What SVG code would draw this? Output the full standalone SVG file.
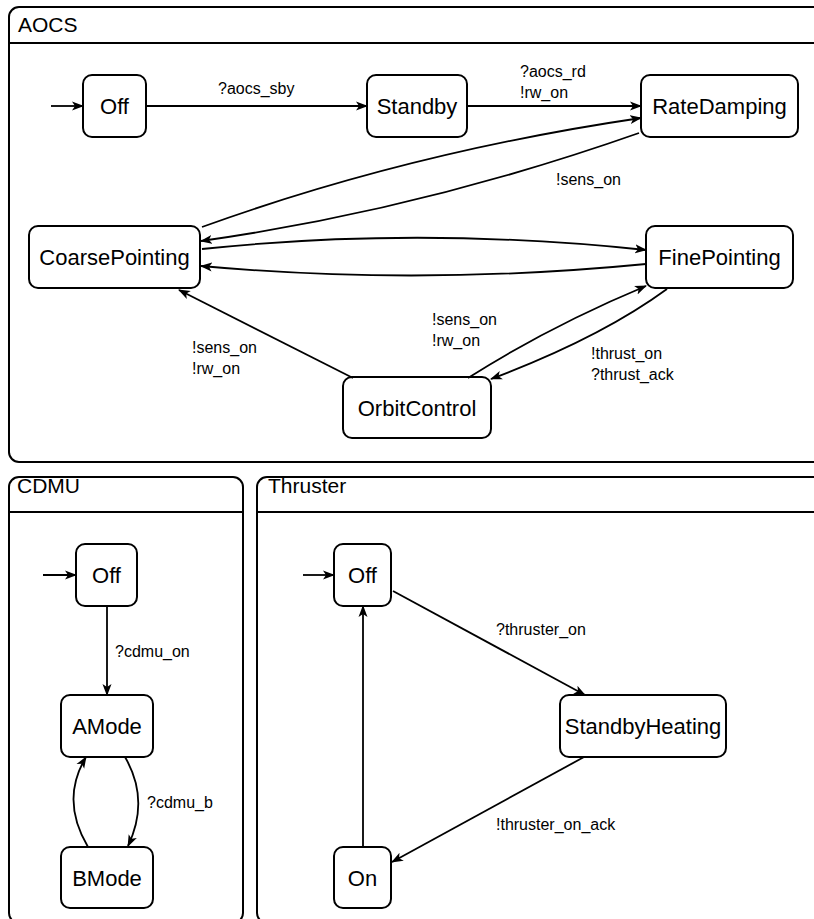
<svg xmlns="http://www.w3.org/2000/svg" width="814" height="919" viewBox="0 0 814 919">
<defs>
<marker id="arr" viewBox="0 0 12 10" refX="11" refY="5" markerWidth="12" markerHeight="10" markerUnits="userSpaceOnUse" orient="auto">
<path d="M0,0.5 L12,5 L0,9.5 L3,5 z" fill="#000"/>
</marker>
<style>
.cont{fill:none;stroke:#000;stroke-width:2}
.node rect{fill:#fff;stroke:#000;stroke-width:2}
.node text{font-family:"Liberation Sans",Arial,sans-serif;font-size:22px;text-anchor:middle;fill:#000}
.title{font-family:"Liberation Sans",Arial,sans-serif;font-size:21px;fill:#000}
.lbl{font-family:"Liberation Sans",Arial,sans-serif;font-size:16px;fill:#000}
.edge{fill:none;stroke:#000;stroke-width:1.8;marker-end:url(#arr)}
</style>
</defs>
<rect width="814" height="919" fill="#fff"/>

<g id="aocs">
<rect class="cont" x="9" y="7" width="830" height="455" rx="10"/>
<line class="cont" x1="9" y1="43" x2="820" y2="43"/>
<text class="title" x="18" y="32">AOCS</text>
</g>
<g id="cdmu">
<rect class="cont" x="9" y="477" width="234" height="446" rx="10"/>
<line class="cont" x1="9" y1="512" x2="243" y2="512"/>
<text class="title" x="17" y="493">CDMU</text>
</g>
<g id="thruster">
<rect class="cont" x="257" y="477" width="580" height="446" rx="10"/>
<line class="cont" x1="257" y1="512" x2="820" y2="512"/>
<text class="title" x="268" y="493">Thruster</text>
</g>

<g id="aocs_off" class="node"><rect x="83" y="75" width="63" height="62" rx="9"/><text x="114.5" y="114">Off</text></g>
<g id="aocs_standby" class="node"><rect x="367" y="75" width="100" height="62" rx="9"/><text x="417" y="114">Standby</text></g>
<g id="aocs_ratedamping" class="node"><rect x="641" y="75" width="157" height="62" rx="9"/><text x="719.5" y="114">RateDamping</text></g>
<g id="aocs_coarse" class="node"><rect x="29" y="226" width="171" height="62" rx="9"/><text x="114.5" y="265">CoarsePointing</text></g>
<g id="aocs_fine" class="node"><rect x="646" y="226" width="147" height="62" rx="9"/><text x="719.5" y="265">FinePointing</text></g>
<g id="aocs_orbit" class="node"><rect x="343" y="377" width="148" height="61" rx="9"/><text x="417" y="416">OrbitControl</text></g>

<g id="cdmu_off" class="node"><rect x="76" y="544" width="61" height="62" rx="9"/><text x="106.5" y="583">Off</text></g>
<g id="cdmu_amode" class="node"><rect x="61" y="695" width="92" height="62" rx="9"/><text x="107" y="734">AMode</text></g>
<g id="cdmu_bmode" class="node"><rect x="61" y="847" width="92" height="61" rx="9"/><text x="107" y="886">BMode</text></g>

<g id="thr_off" class="node"><rect x="334" y="544" width="57" height="62" rx="9"/><text x="362.5" y="583">Off</text></g>
<g id="thr_heating" class="node"><rect x="560" y="695" width="166" height="62" rx="9"/><text x="643" y="734">StandbyHeating</text></g>
<g id="thr_on" class="node"><rect x="334" y="847" width="57" height="61" rx="9"/><text x="362.5" y="886">On</text></g>

<g id="connectors">
<path class="edge" d="M51,106 L83,106"/>
<path class="edge" d="M146,106 L367,106"/>
<path class="edge" d="M467,106 L641,106"/>
<path class="edge" d="M202,227 Q410,152 641,118"/>
<path class="edge" d="M639,133 Q420,210 201,241"/>
<path class="edge" d="M202,249 Q420,226 646,250"/>
<path class="edge" d="M646,264 Q420,286 201,266"/>
<path class="edge" d="M353,378 L179,290"/>
<path class="edge" d="M468,378 Q550,326 646,286"/>
<path class="edge" d="M667,289 Q600,338 491,379"/>

<path class="edge" d="M43,575 L76,575"/>
<path class="edge" d="M107,606 L107,695"/>
<path class="edge" d="M125,757 Q150,800 128,846"/>
<path class="edge" d="M88,847 Q60,800 86,757"/>

<path class="edge" d="M303,575 L334,575"/>
<path class="edge" d="M393,591 L585,695"/>
<path class="edge" d="M584,757 L392,862"/>
<path class="edge" d="M363,847 L363,606"/>
</g>

<g id="labels">
<text class="lbl" x="218" y="94">?aocs_sby</text>
<text class="lbl" x="520" y="77">?aocs_rd</text>
<text class="lbl" x="520" y="98">!rw_on</text>
<text class="lbl" x="556" y="185">!sens_on</text>
<text class="lbl" x="192" y="353">!sens_on</text>
<text class="lbl" x="192" y="374">!rw_on</text>
<text class="lbl" x="432" y="325">!sens_on</text>
<text class="lbl" x="432" y="346">!rw_on</text>
<text class="lbl" x="591" y="359">!thrust_on</text>
<text class="lbl" x="591" y="380">?thrust_ack</text>
<text class="lbl" x="115" y="657">?cdmu_on</text>
<text class="lbl" x="147" y="808">?cdmu_b</text>
<text class="lbl" x="496" y="635">?thruster_on</text>
<text class="lbl" x="496" y="830">!thruster_on_ack</text>
</g>
</svg>
